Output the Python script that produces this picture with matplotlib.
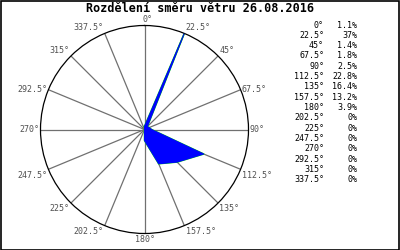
import numpy as np
import matplotlib
matplotlib.use("Agg")
import matplotlib.pyplot as plt
from matplotlib.patches import Rectangle

title = "Rozdělení směru větru 26.08.2016"
directions = [0, 22.5, 45, 67.5, 90, 112.5, 135, 157.5, 180, 202.5, 225, 247.5, 270, 292.5, 315, 337.5]
dir_labels = ["0°", "22.5°", "45°", "67.5°", "90°", "112.5°", "135°", "157.5°", "180°",
              "202.5°", "225°", "247.5°", "270°", "292.5°", "315°", "337.5°"]
values = [1.1, 37, 1.4, 1.8, 2.5, 22.8, 16.4, 13.2, 3.9, 0, 0, 0, 0, 0, 0, 0]
value_labels = ["1.1%", "37%", "1.4%", "1.8%", "2.5%", "22.8%", "16.4%", "13.2%", "3.9%",
                "0%", "0%", "0%", "0%", "0%", "0%", "0%"]

W, H = 400, 250
fig = plt.figure(figsize=(W / 100, H / 100), dpi=100)
fig.patch.set_facecolor("white")
mono = "DejaVu Sans Mono"

# border
fig.add_artist(Rectangle((0.5 / W, 0.5 / H), 1 - 1.5 / W, 1 - 1.5 / H, transform=fig.transFigure,
                         fill=False, edgecolor="black", linewidth=1.2))

fig.text(0.5, 1 - 8.5 / H, title, ha="center", va="center", fontsize=8.5,
         fontweight="bold", family=mono, color="black")

cx, cy, R = 144.5, 129.5, 104
ax = fig.add_axes([(cx - R) / W, (H - cy - R) / H, 2 * R / W, 2 * R / H], projection="polar")
ax.set_theta_zero_location("N")
ax.set_theta_direction(-1)
rmax = max(values)
ax.set_ylim(0, rmax)
ax.grid(False)
ax.set_xticks([])
ax.set_yticks([])
ax.spines["polar"].set_color("black")
ax.spines["polar"].set_linewidth(0.9)
ax.set_facecolor("white")

theta = np.deg2rad(directions)
for th in theta:
    ax.plot([th, th], [0, rmax], color="#707070", linewidth=0.9, zorder=1)

th_c = np.append(theta, theta[0])
v_c = np.append(values, values[0])
ax.plot(th_c, v_c, color="#00dd00", linewidth=1.1, zorder=2)
ax.fill(th_c, v_c, facecolor="#0000ff", edgecolor="#0000ff", linewidth=0.7, zorder=3)

for d, th, lab in zip(directions, theta, dir_labels):
    s, c = np.sin(th), np.cos(th)
    if abs(s) < 1e-6:
        ha = "left" if c > 0 else "center"
    else:
        ha = "left" if s > 0 else "right"
    if c >= 0.7:
        va = "bottom"
    elif c > -0.2:
        va = "center"
    else:
        va = "top"
    dx = 1.0 if ha == "left" else (-1.0 if ha == "right" else 0)
    dy = 1.0 if va == "bottom" else (-1.0 if va == "top" else 0)
    if d == 0:
        dx = -1.5
    ax.annotate(lab, xy=(th, rmax), xytext=(dx, dy), textcoords="offset points",
                ha=ha, va=va, fontsize=6, family=mono, color="#505050",
                annotation_clip=False, zorder=5)

# legend table on right
y0 = 25
step = 10.33
for i, (a, v) in enumerate(zip(dir_labels, value_labels)):
    y = 1 - (y0 + i * step) / H
    fig.text(324 / W, y, a, ha="right", va="center", fontsize=6, family=mono, color="black")
    fig.text(357 / W, y, v, ha="right", va="center", fontsize=6, family=mono, color="black")

fig.savefig("out.png", dpi=100, facecolor="white")
